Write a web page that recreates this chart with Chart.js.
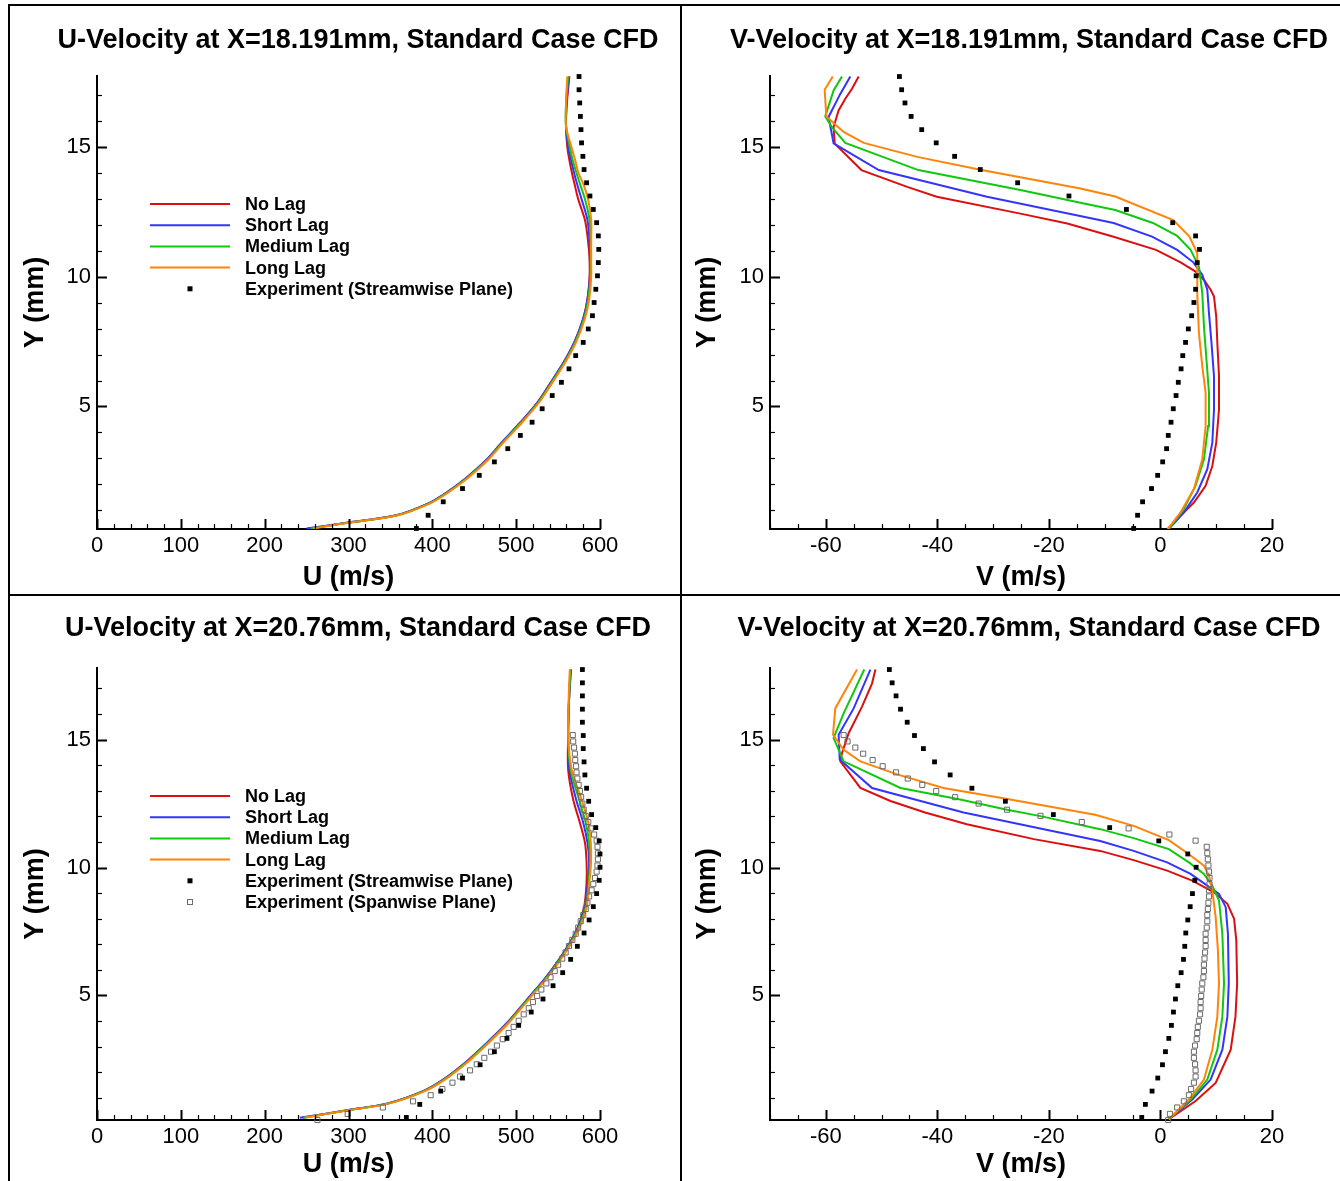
<!DOCTYPE html>
<html>
<head>
<meta charset="utf-8">
<title>Velocity profiles, standard case CFD</title>
<script src="https://cdn.jsdelivr.net/npm/chart.js@4.4.0/dist/chart.umd.min.js"></script>
<style>
  html, body { margin: 0; padding: 0; background: #fff; overflow: hidden; }
  #page { position: relative; width: 1340px; height: 1181px; }
  #page canvas { position: absolute; }
  .rule { position: absolute; background: #000; }
</style>
</head>
<body>
<div id="page">
  <div class="rule" style="left:8px; top:4px; width:1332px; height:2px"></div>
  <div class="rule" style="left:8px; top:4px; width:2px; height:1177px"></div>
  <div class="rule" style="left:680px; top:4px; width:2px; height:1177px"></div>
  <div class="rule" style="left:8px; top:594px; width:1332px; height:2px"></div>
  <canvas id="u18" width="694" height="589" style="left:11px; top:6px"></canvas>
  <canvas id="v18" width="692" height="589" style="left:683px; top:6px"></canvas>
  <canvas id="u20" width="694" height="584" style="left:11px; top:597px"></canvas>
  <canvas id="v20" width="692" height="584" style="left:683px; top:597px"></canvas>
</div>
<script>
// labelled tick values
const uTicks = [0, 100, 200, 300, 400, 500, 600];
const vTicks = [-60, -40, -20, 0, 20];
const yTicks = [5, 10, 15];

// ---- X = 18.191 mm, U profile ----
const u18Y      = [0.29, 0.51, 0.80, 1.27, 1.68, 2.23, 2.92, 3.65, 4.38, 5.18, 5.91, 6.72, 7.52, 8.39, 9.12, 10.0, 10.7, 11.4, 12.2, 13.0, 13.6, 14.0, 14.5, 15.0, 15.8, 16.7, 17.73];
const u18NoLag  = [252, 298, 357, 396, 417, 440, 464, 484, 505, 526, 541, 557, 570, 580, 585, 587.5, 587.5, 585.7, 582, 574, 569.5, 566.6, 563.5, 561, 559.5, 560.5, 563.5];
const u18Short  = [250, 298, 357, 396, 417, 440, 464, 484, 505, 526, 541, 557, 570, 580, 585, 588, 588, 587.5, 585, 578, 572.5, 569.2, 565.5, 562, 559.5, 560, 563];
const u18Medium = [255, 299, 358, 397, 418, 441, 465, 485, 506, 527, 542, 558, 571, 581, 586, 588.5, 589, 588.7, 587.5, 582, 576, 572, 567.5, 564, 559.5, 559.5, 562];
const u18Long   = [258, 300, 359, 398, 419, 442, 466, 486, 507, 528, 543, 559, 572, 582, 587, 589.5, 589.5, 589.5, 589.5, 585.7, 580, 574.3, 570.4, 566, 559.5, 559.5, 561];

// streamwise-plane measurements at X = 18.191 mm (shared by U and V)
const exp18Y = [0.29, 0.80, 1.32, 1.83, 2.34, 2.86, 3.37, 3.88, 4.39, 4.91, 5.42, 5.93, 6.45, 6.96, 7.47, 7.99, 8.50, 9.01,
                9.52, 10.04, 10.55, 11.06, 11.58, 12.09, 12.60, 13.12, 13.63, 14.14, 14.65, 15.17, 15.68, 16.19, 16.71, 17.22, 17.73];
const u18Exp = [381, 395, 413, 436, 456, 474, 490, 505, 519, 531, 543, 554, 563, 571, 580, 586, 591, 593,
                595, 597, 598, 598.5, 598, 596, 592, 588, 584, 581, 579.6, 578, 577.3, 576.6, 575.8, 575, 575];

// ---- X = 18.191 mm, V profile ----
const v18NoLagY  = [0.27, 0.78, 1.29, 1.94, 2.7, 3.6, 4.88, 6.17, 7.45, 8.47, 9.24, 9.5, 9.88, 10.2, 10.55, 11.04, 11.55, 12.06, 12.44, 13.09, 13.47, 14.12, 15.14, 15.78, 16.42, 16.87, 17.26, 17.73];
const v18NoLag   = [1.3, 3.6, 6.0, 8.1, 9.3, 10.0, 10.5, 10.5, 10.2, 10.0, 9.6, 9.0, 7.8, 6.3, 3.7, -0.8, -8.4, -16.7, -25.1, -40.1, -45.4, -53.6, -58.4, -58.6, -57.7, -56.5, -55.3, -54.1];
const v18ShortY  = [0.27, 0.91, 1.68, 2.58, 3.6, 4.88, 6.17, 7.45, 8.6, 9.5, 10.08, 10.56, 11.04, 11.55, 12.08, 12.35, 13.09, 14.12, 15.15, 16.17, 17.06, 17.73];
const v18Short   = [1.5, 4.2, 6.6, 8.4, 9.3, 9.6, 9.6, 9.15, 8.7, 8.4, 7.5, 5.9, 3.0, -1.5, -8.4, -14.4, -31.1, -50.5, -58.6, -59.5, -57.4, -55.6];
const v18MediumY = [0.27, 1.04, 1.94, 2.96, 4.24, 5.53, 6.81, 8.09, 9.37, 10.4, 11.04, 11.58, 12.08, 12.58, 12.86, 13.35, 14.12, 15.17, 15.78, 16.19, 17.19, 17.73];
const v18Medium  = [1.5, 4.2, 6.3, 7.8, 8.55, 8.7, 8.25, 7.8, 7.5, 6.9, 5.4, 3.0, -1.35, -8.1, -14.35, -25.1, -43.4, -56.5, -58.9, -60.1, -58.6, -57.1];
const v18LongY   = [0.27, 0.91, 1.81, 2.96, 4.24, 5.53, 6.55, 7.83, 9.37, 10.91, 11.55, 12.19, 13.1, 13.41, 14.13, 14.63, 15.17, 15.59, 16.19, 17.22, 17.73];
const v18Long    = [1.3, 3.6, 6.0, 7.5, 8.1, 8.1, 7.5, 6.9, 6.6, 6.6, 5.2, 2.3, -8.1, -14.35, -32.3, -43.6, -53.2, -56.8, -59.9, -60.2, -58.75];
const v18Exp = [-4.8, -4.1, -3.2, -1.6, -0.5, 0.4, 1.1, 1.4, 1.9, 2.3, 2.8, 3.2, 3.7, 4.0, 4.5, 5.0, 5.6, 6.0,
                6.3, 6.4, 6.6, 7.0, 6.3, 2.2, -6.1, -16.4, -25.6, -32.3, -36.9, -40.2, -42.8, -44.7, -45.8, -46.4, -46.8];

// ---- X = 20.76 mm, U profile ----
const u20Y      = [0.22, 0.52, 0.78, 1.26, 1.71, 2.42, 3.14, 3.92, 4.82, 5.73, 6.64, 7.54, 8.45, 9.42, 10.2, 10.98, 11.75, 12.66, 13.83, 15.12, 16.5, 17.74];
const u20NoLag  = [245, 300, 347, 389, 413, 441, 465, 489, 512.5, 536, 556, 572, 581, 584, 584, 582, 576, 568, 562, 562, 563, 565.5];
const u20Short  = [242, 300, 347, 389, 413, 441, 465, 489, 512.5, 536, 556, 572, 582, 585.5, 587, 585, 580, 571.5, 563.5, 562, 563, 565];
const u20Medium = [246, 301, 348, 390, 414, 442, 466, 490, 513.5, 537, 557, 573, 583, 586.5, 588, 587, 583, 575, 565, 562, 563, 564.5];
const u20Long   = [248, 302, 349, 391, 415, 443, 467, 491, 514.5, 538, 558, 574, 584, 587.3, 589.3, 589, 586, 578, 566.2, 562, 562.5, 564];

// streamwise-plane measurements at X = 20.76 mm
const exp20Y = [0.23, 0.74, 1.26, 1.77, 2.29, 2.80, 3.32, 3.83, 4.35, 4.86, 5.38, 5.89, 6.41, 6.92, 7.44, 7.95, 8.47, 8.98,
                9.50, 10.01, 10.53, 11.04, 11.56, 12.07, 12.59, 13.10, 13.62, 14.13, 14.65, 15.16, 15.68, 16.19, 16.71, 17.22, 17.74];
const u20Exp = [369, 385, 410, 436, 457, 474, 489, 503, 518, 532, 544, 555.5, 565, 573, 581, 587, 592, 596,
                599, 600, 600, 599, 595, 590, 586.5, 584, 582, 581, 580, 580, 579, 579, 579, 579, 579];

// spanwise-plane measurements at X = 20.76 mm
const span20Y = [0.13, 0.37, 0.62, 0.86, 1.10, 1.34, 1.59, 1.83, 2.07, 2.31, 2.56, 2.80, 3.04, 3.29, 3.53, 3.77, 4.01, 4.26, 4.50, 4.74, 4.98,
                 5.23, 5.47, 5.71, 5.95, 6.20, 6.44, 6.68, 6.93, 7.17, 7.41, 7.65, 7.90, 8.14, 8.38, 8.62, 8.87, 9.11, 9.35, 9.59, 9.84,
                 10.08, 10.32, 10.56, 10.81, 11.05, 11.29, 11.53, 11.78, 12.02, 12.26, 12.50, 12.75, 12.99, 13.23, 13.48, 13.72, 13.96,
                 14.20, 14.45, 14.69, 14.93, 15.18];
const u20Span = [263, 299, 341, 377, 398, 412, 424, 433, 445, 453, 462, 470, 477, 484, 491, 497, 503, 509, 515, 520, 525,
                 530, 536, 541, 546, 550, 555, 559, 563, 567, 571, 574, 577, 580, 583, 585, 587, 590, 592, 594, 596,
                 597, 597.5, 597.5, 597, 596, 593, 589, 586, 583, 580.5, 579, 577.5, 576, 574.5, 573, 572, 571.5,
                 570.5, 570, 569, 568, 567.5];

// ---- X = 20.76 mm, V profile ----
const v20NoLagY  = [0.16, 0.87, 1.58, 2.88, 4.17, 5.47, 7.15, 8.0, 8.58, 9.03, 9.49, 9.88, 10.29, 10.65, 11.11, 11.69, 12.15, 12.6, 13.11, 14.15, 14.47, 15.25, 16.29, 17.2, 17.74];
const v20NoLag   = [1.5, 6.3, 9.9, 12.6, 13.45, 13.75, 13.6, 13.2, 12.0, 9.6, 5.7, 1.2, -4.8, -10.8, -22.7, -34.7, -42.2, -48.4, -53.8, -57.4, -57.1, -55.9, -53.5, -51.7, -51.1];
const v20ShortY  = [0.16, 0.93, 1.71, 2.88, 4.17, 5.47, 7.41, 8.45, 8.97, 9.29, 9.75, 10.2, 10.65, 11.04, 12.15, 13.11, 14.22, 15.19, 16.22, 17.74];
const v20Short   = [1.5, 5.7, 9.0, 11.1, 12.0, 12.25, 12.1, 11.7, 10.5, 8.4, 5.4, 1.2, -4.8, -10.8, -35.3, -51.7, -57.5, -57.7, -55.0, -52.0];
const v20MediumY = [0.16, 0.93, 1.71, 2.88, 4.17, 5.47, 7.41, 8.71, 9.29, 9.75, 10.2, 10.72, 11.15, 11.5, 12.01, 12.26, 12.66, 13.11, 14.15, 15.06, 16.03, 17.74];
const v20Medium  = [1.5, 5.4, 8.4, 10.2, 11.1, 11.4, 11.1, 10.5, 9.3, 7.8, 5.1, 1.5, -4.8, -10.8, -21.5, -27.5, -35.9, -46.6, -56.8, -58.6, -56.8, -53.1];
const v20LongY   = [0.16, 0.93, 1.71, 2.88, 4.17, 5.47, 6.77, 8.06, 9.1, 9.68, 10.07, 10.52, 11.07, 11.63, 12.06, 12.73, 13.11, 13.64, 14.15, 14.6, 15.19, 16.22, 17.74];
const v20Long    = [1.5, 5.1, 7.8, 9.3, 10.2, 10.5, 10.3, 9.9, 9.3, 8.7, 7.8, 5.1, 1.5, -4.8, -11.7, -28.7, -38.9, -47.2, -53.8, -56.8, -58.7, -58.3, -54.4];
const v20Exp = [-3.35, -2.7, -1.5, -0.48, 0.36, 0.9, 1.5, 1.97, 2.33, 2.69, 3.11, 3.71, 4.13, 4.36, 4.54, 4.9, 5.33, 5.74,
                6.16, 6.4, 4.9, -0.3, -9.1, -19.2, -27.8, -33.8, -37.7, -40.5, -42.5, -44.1, -45.4, -46.6, -47.4, -48.1, -48.6];
const v20Span = [1.4, 1.7, 3.0, 4.2, 5.1, 5.5, 6.0, 6.3, 6.3, 6.2, 6.0, 6.0, 6.2, 6.5, 6.6, 6.7, 6.9, 7.1, 7.2, 7.2, 7.3,
                 7.4, 7.5, 7.7, 7.8, 7.8, 7.9, 8.0, 8.1, 8.1, 8.1, 8.3, 8.4, 8.4, 8.5, 8.6, 8.7, 8.7, 8.8, 8.8, 8.7,
                 8.6, 8.5, 8.4, 8.3, 6.3, 1.6, -5.7, -14.1, -21.5, -27.5, -32.6, -36.8, -40.2, -42.7, -45.3, -47.4, -49.8,
                 -51.6, -53.3, -54.7, -56.1, -56.8];

const FONT = '"Liberation Sans", Arial, Helvetica, sans-serif';
Chart.defaults.font.family = FONT;
Chart.defaults.color = '#000';

const RED = 'rgb(218, 16, 16)', BLUE = 'rgb(52, 52, 255)', GREEN = 'rgb(16, 200, 16)', ORANGE = 'rgb(255, 132, 8)';

function pts(xs, ys) {
  return xs.map((v, i) => ({ x: v, y: ys[i] }));
}

// CFD profile drawn as a polyline; lower order is drawn later, so orange ends up on top
function curve(label, color, xs, ys, order, tension) {
  return {
    label, data: pts(xs, ys), showLine: true, borderColor: color, backgroundColor: color,
    borderWidth: 2, pointRadius: 0, tension: tension || 0, order
  };
}

function marks(label, xs, ys, hollow) {
  return {
    label, data: pts(xs, ys), showLine: false, pointStyle: 'rect',
    pointRadius: hollow ? 3.6 : 3.4,
    backgroundColor: hollow ? 'rgba(0,0,0,0)' : '#000',
    borderColor: hollow ? '#6a6a6a' : '#000',
    borderWidth: hollow ? 1 : 0,
    clip: false, order: 0
  };
}

// legend drawn inside the plot area, line samples followed by bold labels
const insideLegend = {
  id: 'insideLegend',
  afterDatasetsDraw(chart, args, opts) {
    if (!opts.show) return;
    const { ctx, chartArea } = chart;
    const x0 = chartArea.left + opts.left;
    const y0 = chartArea.top + opts.top;
    ctx.save();
    ctx.font = 'bold 18px ' + FONT;
    ctx.textBaseline = 'middle';
    ctx.textAlign = 'left';
    chart.data.datasets.forEach((ds, i) => {
      const y = y0 + i * opts.rowGap;
      if (ds.showLine) {
        ctx.strokeStyle = ds.borderColor;
        ctx.lineWidth = 2;
        ctx.beginPath();
        ctx.moveTo(x0, y);
        ctx.lineTo(x0 + opts.lineLen, y);
        ctx.stroke();
      } else {
        const cx = x0 + opts.lineLen / 2;
        if (ds.borderWidth) {
          ctx.strokeStyle = ds.borderColor;
          ctx.lineWidth = 1;
          ctx.strokeRect(cx - 2.5, y - 2.5, 5, 5);
        } else {
          ctx.fillStyle = '#000';
          ctx.fillRect(cx - 2.5, y - 2.5, 5, 5);
        }
      }
      ctx.fillStyle = '#000';
      ctx.fillText(ds.label, x0 + opts.lineLen + opts.gap, y + 1);
    });
    ctx.restore();
  }
};

// tick marks pointing into the plot, long at labelled values and short in between
const innerTicks = {
  id: 'innerTicks',
  afterDraw(chart, args, opts) {
    const { ctx, chartArea } = chart;
    const xs = chart.scales.x, ys = chart.scales.y;
    ctx.save();
    ctx.strokeStyle = '#000';
    const isMajor = (v, step) => Math.abs(v / step - Math.round(v / step)) < 1e-6;
    for (let k = Math.ceil(xs.min / opts.xMinor); k * opts.xMinor <= xs.max + 1e-9; k++) {
      const v = k * opts.xMinor;
      const major = isMajor(v, opts.xMajor);
      const px = Math.round(xs.getPixelForValue(v)) + 0.5;
      ctx.lineWidth = major ? 2 : 1.2;
      ctx.beginPath();
      ctx.moveTo(px, chartArea.bottom);
      ctx.lineTo(px, chartArea.bottom - (major ? opts.majorLen : opts.minorLen));
      ctx.stroke();
    }
    for (let k = Math.ceil(ys.min / opts.yMinor); k * opts.yMinor <= ys.max + 1e-9; k++) {
      const v = k * opts.yMinor;
      const major = isMajor(v, opts.yMajor);
      const py = Math.round(ys.getPixelForValue(v)) + 0.5;
      ctx.lineWidth = major ? 2 : 1.2;
      ctx.beginPath();
      ctx.moveTo(chartArea.left, py);
      ctx.lineTo(chartArea.left + (major ? opts.majorLen : opts.minorLen), py);
      ctx.stroke();
    }
    ctx.restore();
  }
};

function fixedTicks(values) {
  return scale => {
    scale.ticks = values.map(v => ({ value: v }));
  };
}

function panel(id, p) {
  return new Chart(document.getElementById(id), {
    type: 'scatter',
    data: { datasets: p.datasets },
    plugins: [insideLegend, innerTicks],
    options: {
      responsive: false,
      animation: false,
      devicePixelRatio: 1,
      events: [],
      layout: { padding: 0 },
      scales: {
        x: {
          type: 'linear', min: p.xMin, max: p.xMax,
          afterFit: s => { s.height = p.xBox; },
          afterBuildTicks: fixedTicks(p.xTicks),
          grid: { display: false, drawTicks: false },
          border: { display: true, color: '#000', width: 2 },
          ticks: { padding: 4, autoSkip: false, maxRotation: 0, color: '#000', font: { size: 22 } },
          title: { display: true, text: p.xTitle, color: '#000', font: { size: 27, weight: 'bold' }, padding: { top: 0, bottom: p.xTitlePad } }
        },
        y: {
          type: 'linear', min: p.yMin, max: p.yMax,
          afterFit: s => { s.width = p.yBox; },
          afterBuildTicks: fixedTicks(yTicks),
          grid: { display: false, drawTicks: false },
          border: { display: true, color: '#000', width: 2 },
          ticks: { padding: 6, color: '#000', font: { size: 22 } },
          title: { display: true, text: 'Y (mm)', color: '#000', font: { size: 27, weight: 'bold' }, padding: { top: 8, bottom: 0 } }
        },
        // empty strip on the right so the plot title centres over the whole panel
        yr: {
          type: 'linear', position: 'right', display: true,
          afterFit: s => { s.width = p.rightBox; },
          grid: { display: false, drawTicks: false },
          border: { display: false },
          ticks: { display: false }
        }
      },
      plugins: {
        legend: { display: false },
        tooltip: { enabled: false },
        title: {
          display: true, text: p.title, color: '#000',
          font: { size: 27, weight: 'bold' },
          padding: { top: p.titleTop, bottom: p.titleBottom }
        },
        insideLegend: { show: p.legend, left: 53, top: 128, rowGap: 21.2, lineLen: 80, gap: 15 },
        innerTicks: { xMinor: p.xMinor, xMajor: p.xMajor, yMinor: 1, yMajor: 5, majorLen: 10, minorLen: 5 }
      }
    }
  });
}

panel('u18', {
  title: 'U-Velocity at X=18.191mm, Standard Case CFD',
  xTitle: 'U (m/s)', xMin: 0, xMax: 600, xTicks: uTicks, xMajor: 100, xMinor: 20,
  yMin: 0.27, yMax: 17.75,
  rightBox: 105, xBox: 66, xTitlePad: 0.8, yBox: 86,
  titleTop: 18.8, titleBottom: 18.8, legend: true,
  datasets: [
    curve('No Lag', RED, u18NoLag, u18Y, 4, 0.3),
    curve('Short Lag', BLUE, u18Short, u18Y, 3, 0.3),
    curve('Medium Lag', GREEN, u18Medium, u18Y, 2, 0.3),
    curve('Long Lag', ORANGE, u18Long, u18Y, 1, 0.3),
    marks('Experiment (Streamwise Plane)', u18Exp, exp18Y, false)
  ]
});

panel('v18', {
  title: 'V-Velocity at X=18.191mm, Standard Case CFD',
  xTitle: 'V (m/s)', xMin: -70, xMax: 20, xTicks: vTicks, xMajor: 20, xMinor: 5,
  yMin: 0.27, yMax: 17.75,
  rightBox: 103, xBox: 66, xTitlePad: 0.8, yBox: 87,
  titleTop: 18.8, titleBottom: 18.8, legend: false,
  datasets: [
    curve('No Lag', RED, v18NoLag, v18NoLagY, 4),
    curve('Short Lag', BLUE, v18Short, v18ShortY, 3),
    curve('Medium Lag', GREEN, v18Medium, v18MediumY, 2),
    curve('Long Lag', ORANGE, v18Long, v18LongY, 1),
    marks('Experiment (Streamwise Plane)', v18Exp, exp18Y, false)
  ]
});

panel('u20', {
  title: 'U-Velocity at X=20.76mm, Standard Case CFD',
  xTitle: 'U (m/s)', xMin: 0, xMax: 600, xTicks: uTicks, xMajor: 100, xMinor: 20,
  yMin: 0.13, yMax: 17.8,
  rightBox: 105, xBox: 61, xTitlePad: 0, yBox: 86,
  titleTop: 15.5, titleBottom: 23.1, legend: true,
  datasets: [
    curve('No Lag', RED, u20NoLag, u20Y, 4, 0.3),
    curve('Short Lag', BLUE, u20Short, u20Y, 3, 0.3),
    curve('Medium Lag', GREEN, u20Medium, u20Y, 2, 0.3),
    curve('Long Lag', ORANGE, u20Long, u20Y, 1, 0.3),
    marks('Experiment (Streamwise Plane)', u20Exp, exp20Y, false),
    marks('Experiment (Spanwise Plane)', u20Span, span20Y, true)
  ]
});

panel('v20', {
  title: 'V-Velocity at X=20.76mm, Standard Case CFD',
  xTitle: 'V (m/s)', xMin: -70, xMax: 20, xTicks: vTicks, xMajor: 20, xMinor: 5,
  yMin: 0.13, yMax: 17.8,
  rightBox: 103, xBox: 61, xTitlePad: 0, yBox: 87,
  titleTop: 15.5, titleBottom: 23.1, legend: false,
  datasets: [
    curve('No Lag', RED, v20NoLag, v20NoLagY, 4),
    curve('Short Lag', BLUE, v20Short, v20ShortY, 3),
    curve('Medium Lag', GREEN, v20Medium, v20MediumY, 2),
    curve('Long Lag', ORANGE, v20Long, v20LongY, 1),
    marks('Experiment (Streamwise Plane)', v20Exp, exp20Y, false),
    marks('Experiment (Spanwise Plane)', v20Span, span20Y, true)
  ]
});
</script>
</body>
</html>
